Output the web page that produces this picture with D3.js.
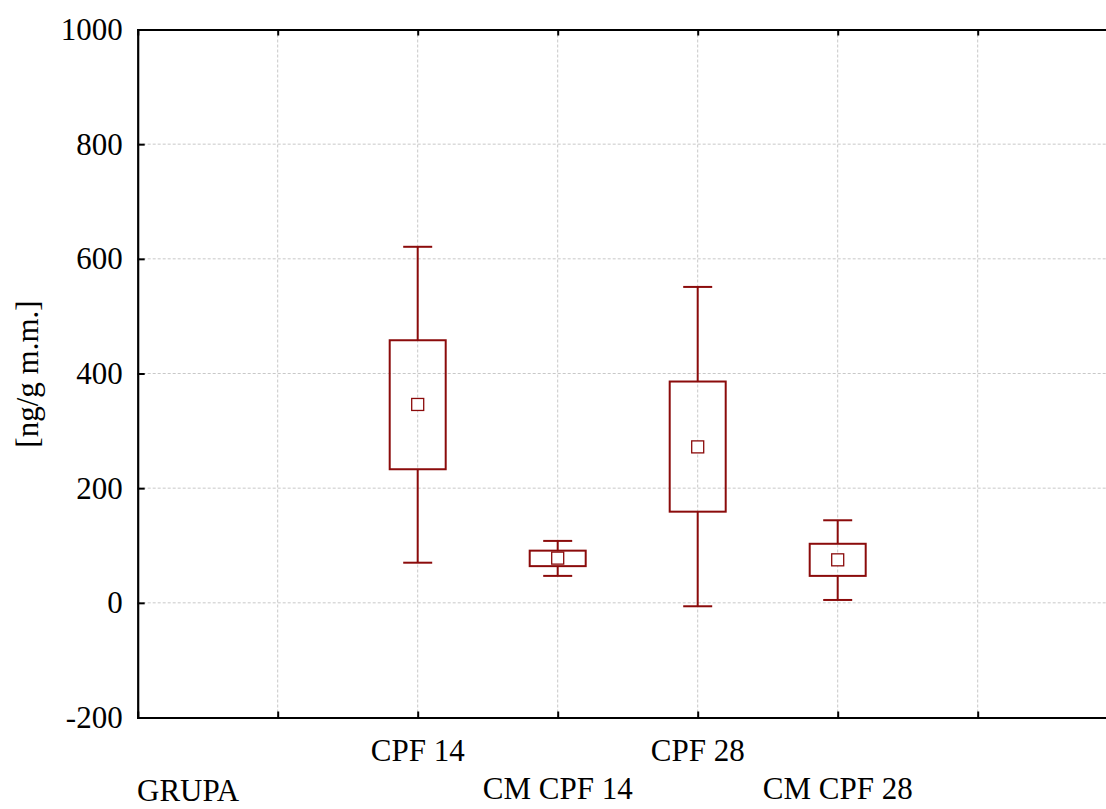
<!DOCTYPE html>
<html><head><meta charset="utf-8">
<script src="https://cdn.jsdelivr.net/npm/d3@7"></script>
<style>body{margin:0;background:#fff}svg{display:block}text{font-family:"Liberation Serif","Times New Roman",serif;fill:#000}</style>
</head><body><svg id="c" width="1106" height="809"></svg>
<script>
const categories = ["CPF 14", "CM CPF 14", "CPF 28", "CM CPF 28"];
const catPositions = [2, 3, 4, 5];
const whiskerLow = [70, 47, -6, 5];
const boxLow = [233, 64, 159, 47];
const meanVals = [346, 78, 272, 75];
const boxHigh = [458, 91, 386, 103];
const whiskerHigh = [621, 108, 551, 144];
const yTicks = [-200, 0, 200, 400, 600, 800, 1000];
const xTicks = [1, 2, 3, 4, 5, 6];
const yLabel = "[ng/g m.m.]";
const xTitle = "GRUPA";

const svg = d3.select("#c");
const L = 137.7, T = 29.5, B = 717.5, R = 1117.7;
const x = d3.scaleLinear().domain([0, 7]).range([L, R]);
const y = d3.scaleLinear().domain([-200, 1000]).range([B, T]);
const col = "#8b0b0b";
const fs = 31;

// grid
svg.append("g").selectAll("line").data(yTicks.filter(d => d > -200 && d < 1000)).join("line")
  .attr("x1", L).attr("x2", R).attr("y1", d => y(d)).attr("y2", d => y(d))
  .attr("stroke", "#c8c8c8").attr("stroke-width", 1).attr("stroke-dasharray", "3,2");
svg.append("g").selectAll("line").data(xTicks).join("line")
  .attr("x1", d => x(d)).attr("x2", d => x(d)).attr("y1", T).attr("y2", B)
  .attr("stroke", "#c8c8c8").attr("stroke-width", 1).attr("stroke-dasharray", "3,2");

// axes
const ax = svg.append("g");
ax.append("g").attr("transform", `translate(${L},0)`)
  .call(d3.axisLeft(y).tickValues(yTicks).tickSize(-7).tickPadding(15).tickFormat(d => String(d)))
  .call(g => { g.select(".domain").attr("stroke-width", 2.2); g.selectAll(".tick line").attr("stroke-width", 2);
    g.selectAll("text").attr("font-size", fs).attr("font-family", "Liberation Serif"); });
ax.append("g").attr("transform", `translate(0,${B})`)
  .call(d3.axisBottom(x).tickValues(xTicks).tickSize(-6).tickFormat(""))
  .call(g => { g.select(".domain").attr("stroke-width", 2.2); g.selectAll(".tick line").attr("stroke-width", 2); });
ax.append("g").attr("transform", `translate(0,${T})`)
  .call(d3.axisTop(x).tickValues(xTicks).tickSize(-6).tickFormat(""))
  .call(g => { g.select(".domain").attr("stroke-width", 2.2); g.selectAll(".tick line").attr("stroke-width", 2); });
ax.selectAll(".domain").attr("stroke", "#000");
ax.selectAll(".tick line").attr("stroke", "#000");

// boxes
const data = categories.map((c, i) => ({c, p: catPositions[i], wl: whiskerLow[i], bl: boxLow[i], m: meanVals[i], bh: boxHigh[i], wh: whiskerHigh[i]}));
const bw = 56, cw = 29, ms = 12;
const gb = svg.append("g").selectAll("g").data(data).join("g");
gb.append("line").attr("x1", d => x(d.p)).attr("x2", d => x(d.p)).attr("y1", d => y(d.wh)).attr("y2", d => y(d.bh)).attr("stroke", col).attr("stroke-width", 2);
gb.append("line").attr("x1", d => x(d.p)).attr("x2", d => x(d.p)).attr("y1", d => y(d.bl)).attr("y2", d => y(d.wl)).attr("stroke", col).attr("stroke-width", 2);
gb.append("line").attr("x1", d => x(d.p) - cw/2).attr("x2", d => x(d.p) + cw/2).attr("y1", d => y(d.wh)).attr("y2", d => y(d.wh)).attr("stroke", col).attr("stroke-width", 2);
gb.append("line").attr("x1", d => x(d.p) - cw/2).attr("x2", d => x(d.p) + cw/2).attr("y1", d => y(d.wl)).attr("y2", d => y(d.wl)).attr("stroke", col).attr("stroke-width", 2);
gb.append("rect").attr("x", d => x(d.p) - bw/2).attr("width", bw).attr("y", d => y(d.bh)).attr("height", d => y(d.bl) - y(d.bh))
  .attr("fill", "none").attr("stroke", col).attr("stroke-width", 2);
gb.append("rect").attr("x", d => x(d.p) - ms/2).attr("width", ms).attr("y", d => y(d.m) - ms/2).attr("height", ms)
  .attr("fill", "#fff").attr("stroke", col).attr("stroke-width", 1.3);

// category labels
svg.append("g").selectAll("text").data(data).join("text")
  .attr("x", d => x(d.p)).attr("y", (d, i) => i % 2 === 0 ? 761 : 799)
  .attr("text-anchor", "middle").attr("font-size", fs).text(d => d.c);

svg.append("text").attr("x", 137).attr("y", 801).attr("font-size", fs).text(xTitle);
svg.append("text").attr("transform", "translate(38,374) rotate(-90)").attr("text-anchor", "middle").attr("font-size", fs).text(yLabel);
</script></body></html>
